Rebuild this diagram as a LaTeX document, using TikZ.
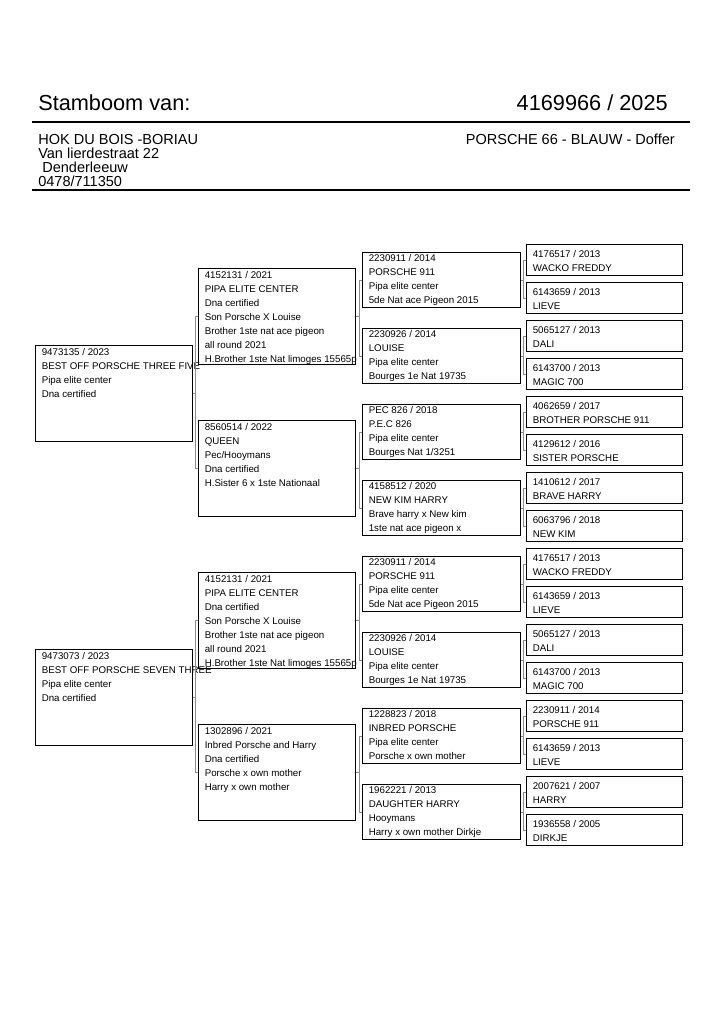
\documentclass[tikz,border=0pt]{standalone}
\usepackage{fontspec}
\setmainfont{Liberation Sans}
\usetikzlibrary{calc}
\newcommand\pedbox[7]{%
  \node[pbox, minimum width={#4*0.75pt}, minimum height={#5*0.75pt}] (#1) at (#2,#3) {};
  \node[ptext] (#1t) at ($(#1.north west)+(6.5,#6+1)$) {#7};
}
\newcommand\bracket[4]{%
  \draw[conn] (#2.west) -- ++(-3,0) coordinate (#4) |- (#3.west);
  \draw[conn] (#1.east) -- (#1.east -| #4);
}
\begin{document}
\begin{tikzpicture}[x=0.75pt,y=-0.75pt,
  pbox/.style={draw=black, line width=0.75pt, rectangle, inner sep=0pt, anchor=north west},
  ptext/.style={anchor=north west, inner sep=0pt, align=left, font=\fontsize{7.3pt}{10.5pt}\selectfont},
  conn/.style={draw=black!45, line width=0.75pt},
  hrule/.style={draw=black, line width=1pt},
  title/.style={inner sep=0pt, font=\fontsize{16.3pt}{20pt}\selectfont},
  sub/.style={inner sep=0pt, align=left, font=\fontsize{10.9pt}{10.5pt}\selectfont}]
\useasboundingbox[fill=white] (0,0) rectangle (724,1024);
% header
\node[title, anchor=base west] (ttl) at (38,110) {Stamboom van:};
\node[title, anchor=base east] (ring) at (668,110) {4169966 / 2025};
\coordinate (r1a) at (32,122); \coordinate (r1b) at (690,122);
\draw[hrule] (r1a) -- (r1b);
\node[sub, anchor=north west] (addr) at (38,134) {HOK DU BOIS -BORIAU\\Van lierdestraat 22\\\hspace*{0.278em}Denderleeuw\\0478/711350};
\node[sub, anchor=base east] (bird) at (675,144.5) {PORSCHE 66 - BLAUW - Doffer};
\coordinate (r2a) at (32,190); \coordinate (r2b) at (690,190);
\draw[hrule] (r2a) -- (r2b);
% generation 1
\pedbox{A}{35}{345}{157}{96}{2.5}{9473135 / 2023\\BEST OFF PORSCHE THREE FIVE\\Pipa elite center\\Dna certified}
\pedbox{B}{35}{649}{157}{96}{2.5}{9473073 / 2023\\BEST OFF PORSCHE SEVEN THREE\\Pipa elite center\\Dna certified}
% generation 2
\pedbox{A1}{198}{268}{157}{96}{2.5}{4152131 / 2021\\PIPA ELITE CENTER\\Dna certified\\Son Porsche X Louise\\Brother 1ste nat ace pigeon\\all round 2021\\H.Brother 1ste Nat limoges 15565p}
\pedbox{A2}{198}{420}{157}{96}{2.5}{8560514 / 2022\\QUEEN\\Pec/Hooymans\\Dna certified\\H.Sister 6 x 1ste Nationaal}
\pedbox{B1}{198}{572}{157}{96}{2.5}{4152131 / 2021\\PIPA ELITE CENTER\\Dna certified\\Son Porsche X Louise\\Brother 1ste nat ace pigeon\\all round 2021\\H.Brother 1ste Nat limoges 15565p}
\pedbox{B2}{198}{724}{157}{96}{2.5}{1302896 / 2021\\Inbred Porsche and Harry\\Dna certified\\Porsche x own mother\\Harry x own mother}
% generation 3
\pedbox{A11}{362}{252}{158}{55}{1.5}{2230911 / 2014\\PORSCHE 911\\Pipa elite center\\5de Nat ace Pigeon 2015}
\pedbox{A12}{362}{328}{158}{55}{1.5}{2230926 / 2014\\LOUISE\\Pipa elite center\\Bourges 1e Nat 19735}
\pedbox{A21}{362}{404}{158}{55}{1.5}{PEC 826 / 2018\\P.E.C 826\\Pipa elite center\\Bourges Nat 1/3251}
\pedbox{A22}{362}{480}{158}{55}{1.5}{4158512 / 2020\\NEW KIM HARRY\\Brave harry x New kim\\1ste nat ace pigeon x}
\pedbox{B11}{362}{556}{158}{55}{1.5}{2230911 / 2014\\PORSCHE 911\\Pipa elite center\\5de Nat ace Pigeon 2015}
\pedbox{B12}{362}{632}{158}{55}{1.5}{2230926 / 2014\\LOUISE\\Pipa elite center\\Bourges 1e Nat 19735}
\pedbox{B21}{362}{708}{158}{55}{1.5}{1228823 / 2018\\INBRED PORSCHE\\Pipa elite center\\Porsche x own mother}
\pedbox{B22}{362}{784}{158}{55}{1.5}{1962221 / 2013\\DAUGHTER HARRY\\Hooymans\\Harry x own mother Dirkje}
% generation 4
\pedbox{A111}{526}{244}{156}{31}{5.5}{4176517 / 2013\\WACKO FREDDY}
\pedbox{A112}{526}{282}{156}{31}{5.5}{6143659 / 2013\\LIEVE}
\pedbox{A121}{526}{320}{156}{31}{5.5}{5065127 / 2013\\DALI}
\pedbox{A122}{526}{358}{156}{31}{5.5}{6143700 / 2013\\MAGIC 700}
\pedbox{A211}{526}{396}{156}{31}{5.5}{4062659 / 2017\\BROTHER PORSCHE 911}
\pedbox{A212}{526}{434}{156}{31}{5.5}{4129612 / 2016\\SISTER PORSCHE}
\pedbox{A221}{526}{472}{156}{31}{5.5}{1410612 / 2017\\BRAVE HARRY}
\pedbox{A222}{526}{510}{156}{31}{5.5}{6063796 / 2018\\NEW KIM}
\pedbox{B111}{526}{548}{156}{31}{5.5}{4176517 / 2013\\WACKO FREDDY}
\pedbox{B112}{526}{586}{156}{31}{5.5}{6143659 / 2013\\LIEVE}
\pedbox{B121}{526}{624}{156}{31}{5.5}{5065127 / 2013\\DALI}
\pedbox{B122}{526}{662}{156}{31}{5.5}{6143700 / 2013\\MAGIC 700}
\pedbox{B211}{526}{700}{156}{31}{5.5}{2230911 / 2014\\PORSCHE 911}
\pedbox{B212}{526}{738}{156}{31}{5.5}{6143659 / 2013\\LIEVE}
\pedbox{B221}{526}{776}{156}{31}{5.5}{2007621 / 2007\\HARRY}
\pedbox{B222}{526}{814}{156}{31}{5.5}{1936558 / 2005\\DIRKJE}
% connectors
\bracket{A}{A1}{A2}{mA}
\bracket{B}{B1}{B2}{mB}
\bracket{A1}{A11}{A12}{mA1}
\bracket{A2}{A21}{A22}{mA2}
\bracket{B1}{B11}{B12}{mB1}
\bracket{B2}{B21}{B22}{mB2}
\bracket{A11}{A111}{A112}{mA11}
\bracket{A12}{A121}{A122}{mA12}
\bracket{A21}{A211}{A212}{mA21}
\bracket{A22}{A221}{A222}{mA22}
\bracket{B11}{B111}{B112}{mB11}
\bracket{B12}{B121}{B122}{mB12}
\bracket{B21}{B211}{B212}{mB21}
\bracket{B22}{B221}{B222}{mB22}
\end{tikzpicture}
\end{document}
